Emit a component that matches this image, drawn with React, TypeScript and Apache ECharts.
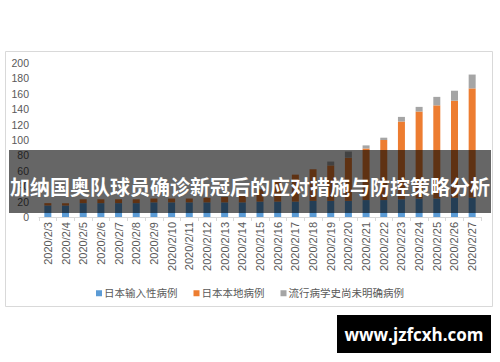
import React, { useEffect, useRef } from "react";
import * as echarts from "echarts";

const categories = [
  "2020/2/3", "2020/2/4", "2020/2/5", "2020/2/6", "2020/2/7", "2020/2/8", "2020/2/9",
  "2020/2/10", "2020/2/11", "2020/2/12", "2020/2/13", "2020/2/14", "2020/2/15", "2020/2/16",
  "2020/2/17", "2020/2/18", "2020/2/19", "2020/2/20", "2020/2/21", "2020/2/22", "2020/2/23",
  "2020/2/24", "2020/2/25", "2020/2/26", "2020/2/27",
];
const importedCases = [15, 15, 18, 18, 18, 18, 19, 19, 19, 19, 19, 19, 20, 20, 20, 21, 21, 21, 22, 22, 23, 24, 24, 25, 25];
const localCases = [3, 3, 5, 5, 5, 5, 5, 5, 5, 6, 7, 11, 16, 27, 35, 41, 46, 56, 67, 78, 101, 113, 121, 126, 142];
const unknownCases = [0, 0, 0, 0, 0, 0, 0, 0, 0, 0, 0, 0, 0, 0, 0, 0, 5, 8, 4, 3, 6, 6, 11, 13, 18];
const seriesNames = ["日本输入性病例", "日本本地病例", "流行病学史尚未明确病例"];
const seriesColors = ["#5B9BD5", "#ED7D31", "#A5A5A5"];
const titleText = "加纳国奥队球员确诊新冠后的应对措施与防控策略分析";
const watermarkText = "www.jzfcxh.com";

export default function App() {
  const ref = useRef<HTMLDivElement>(null);
  useEffect(() => {
    if (!ref.current) return;
    const chart = echarts.init(ref.current, null, { renderer: "svg" });
    const dataSets = [importedCases, localCases, unknownCases];
    chart.setOption({
      animation: false,
      backgroundColor: "#ffffff",
      textStyle: { fontFamily: "'Liberation Sans', 'Noto Sans CJK SC', sans-serif" },
      grid: { left: 39, right: 19, top: 63, bottom: 145, containLabel: false },
      legend: {
        top: 283,
        left: "center",
        icon: "rect",
        itemWidth: 6,
        itemHeight: 6,
        itemGap: 16,
        textStyle: { fontSize: 10.5, color: "#595959", padding: [0, 0, 0, -3] },
        data: seriesNames,
      },
      xAxis: {
        type: "category",
        data: categories,
        axisLine: { lineStyle: { color: "#d9d9d9" } },
        axisTick: { show: true, length: 4, lineStyle: { color: "#d9d9d9" } },
        axisLabel: { rotate: 90, fontSize: 11, color: "#595959", margin: 5, interval: 0 },
      },
      yAxis: {
        type: "value",
        min: 0,
        max: 200,
        interval: 20,
        axisLine: { show: false },
        axisTick: { show: false },
        splitLine: { show: false },
        axisLabel: { fontSize: 10.5, color: "#595959", margin: 10 },
      },
      series: seriesNames.map((name, i) => ({
        name,
        type: "bar",
        stack: "total",
        barWidth: 7,
        itemStyle: { color: seriesColors[i] },
        data: dataSets[i],
      })),
      graphic: [
        {
          type: "rect",
          z: 1,
          silent: true,
          shape: { x: 5.5, y: 51.5, width: 487, height: 255 },
          style: { fill: "none", stroke: "#d9d9d9", lineWidth: 1 },
        },
        {
          type: "rect",
          z: 100,
          silent: true,
          shape: { x: 9, y: 150, width: 482, height: 63 },
          style: { fill: "rgba(0,0,0,0.6)" },
        },
        {
          type: "text",
          z: 101,
          silent: true,
          x: 250,
          y: 186,
          style: {
            text: titleText,
            fill: "#ffffff",
            font: "bold 20px 'Noto Sans CJK SC', sans-serif",
            align: "center",
            verticalAlign: "middle",
          },
        },
        {
          type: "rect",
          z: 100,
          silent: true,
          shape: { x: 337, y: 315, width: 154, height: 38 },
          style: { fill: "#000000" },
        },
        {
          type: "text",
          z: 101,
          silent: true,
          x: 414,
          y: 334,
          style: {
            text: watermarkText,
            fill: "#ffffff",
            font: "bold 17px 'Open Sans', 'DejaVu Sans', sans-serif",
            align: "center",
            verticalAlign: "middle",
          },
        },
      ],
    });
    return () => chart.dispose();
  }, []);
  return (
    <div
      ref={ref}
      style={{ position: "absolute", left: 0, top: 0, width: 500, height: 362, background: "#fff" }}
    />
  );
}
